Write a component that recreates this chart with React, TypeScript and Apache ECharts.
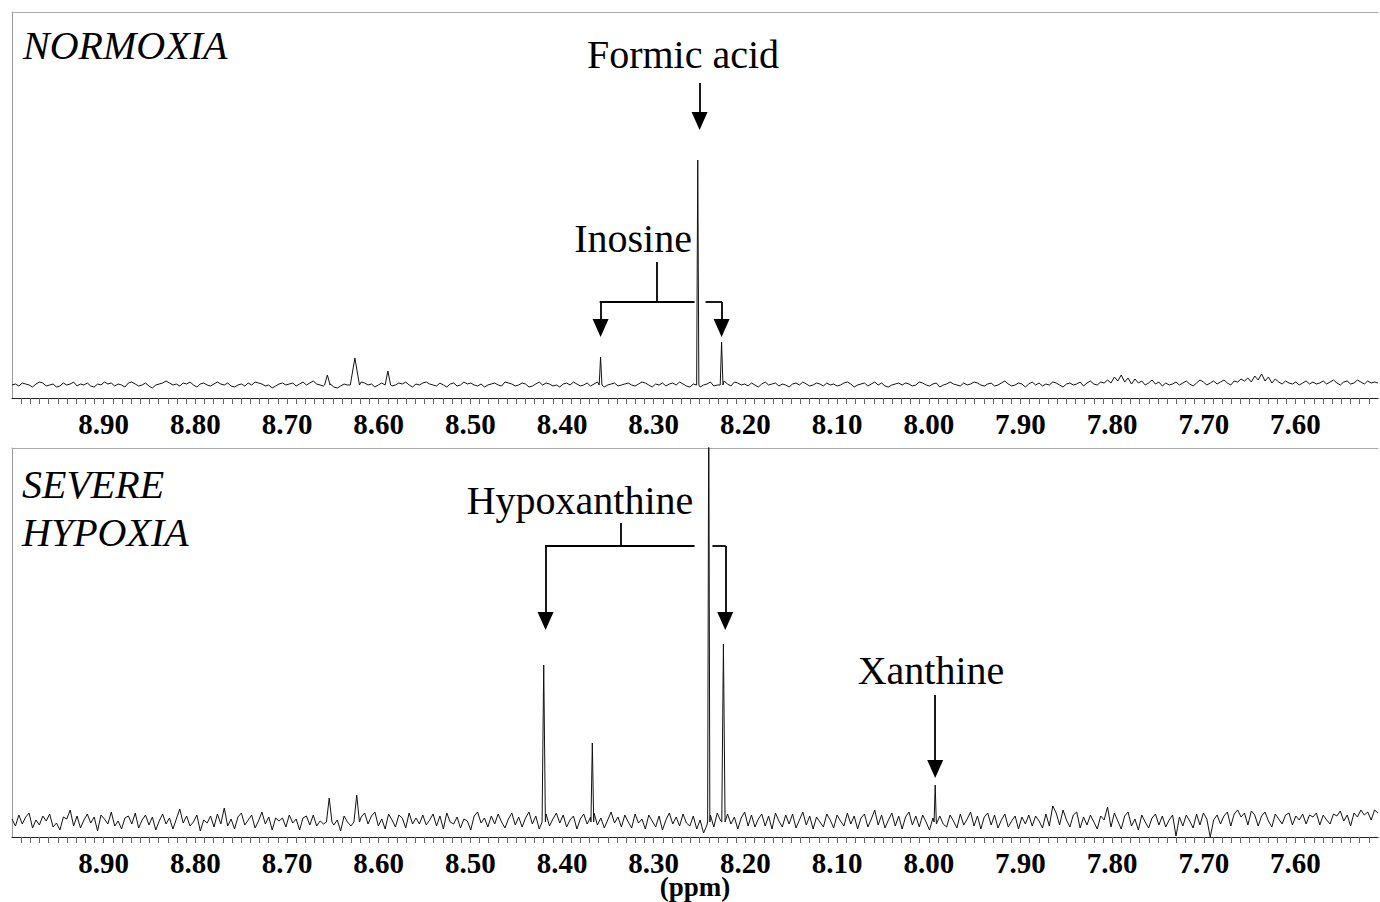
import React, { useEffect, useRef } from "react";
import * as echarts from "echarts";

const SERIF = '"Liberation Serif", "Times New Roman", serif';

// chemical-shift range shown (ppm), axis is reversed (high ppm on the left)
const PPM_LEFT = 9.0;
const PPM_RIGHT = 7.51;

const tickLabelValues = [8.9, 8.8, 8.7, 8.6, 8.5, 8.4, 8.3, 8.2, 8.1, 8.0, 7.9, 7.8, 7.7, 7.6];

// baseline noise (intensity units, evenly spaced from 9.00 to 7.51 ppm)
const normoxiaNoise = [
  0, 1, -1, 2, 1, 0, -2, 1, 3, 2, -1, 0, 1, -2, -1, 2, 0, 1, 3, -1,
  1, 0, 2, -1, -2, 1, 0, 3, 1, 2, -1, 1, 0, -2, 2, 3, 1, -1, 0, 2,
  -1, -3, 0, 1, 2, 4, 2, 0, 1, -1, 2, 1, 3, 0, -2, 1, 2, 0, -1, 1,
  3, 1, 0, 2, -1, -2, 0, 1, -1, 2, 0, 3, 2, 1, -1, 0, -3, -1, 1, 2,
  0, 1, 2, -1, 1, 3, 0, 2, 4, 1, 0, -1, 2, 1, -2, -3, -1, 1, 0, 2,
  1, -1, 3, 2, 0, 1, -2, 0, 2, 3, 1, -1, 0, 2, 1, 3, 0, -2, 1, 0,
  2, 3, 1, 0, -1, 2, 0, -2, 1, 2, -1, 0, 3, 1, 2, 0, -1, 1, -2, 0,
  1, 2, 0, -1, 3, 2, 1, -1, 0, 2, 1, -2, -1, 1, 3, 0, 2, 1, -1, 0,
  -2, 1, 2, 0, 3, 1, -1, 0, 2, -1, 1, 3, 0, -2, 0, 1, 2, -1, 0, 1,
  2, 0, -1, 1, 3, 2, 0, -2, 1, 0, 2, -1, 1, 2, 0, 3, 1, -1, -2, 1,
  2, -2, 0, 1, 3, -1, 0, 2, 4, 1, -1, 3, 2, 0, 1, -1, 2, 0, -2, 1,
  3, 0, 1, 2, -1, 1, 0, -2, 1, 2, 0, 3, 1, -1, 0, 2, 1, -1, 2, 0,
  1, -1, 0, 2, 3, 1, -2, 0, 1, 2, -1, 1, 3, 0, 2, -1, -2, 0, 1, 2,
  0, 2, 1, -1, 0, 3, 2, 0, -1, 1, 2, -2, 0, 1, 3, 1, 0, -1, 2, 0,
  1, 3, 2, 0, -1, 1, 2, -1, 0, 2, 4, 1, -1, 0, 2, 1, -2, 1, 3, 0,
  2, -1, 1, 0, 3, 2, 0, -2, 1, 2, 0, 1, 3, -1, 2, 4, 1, 0, 3, 2,
  5, 2, 8, 4, 10, 3, 7, 1, 6, 2, 4, 0, 2, 5, 1, 3, -1, 2, 0, 1,
  3, 0, 2, 4, 1, -1, 2, 5, 3, 0, 2, 4, 1, 3, 5, 2, 0, 4, 3, 6,
  4, 7, 3, 9, 5, 11, 4, 8, 2, 6, 3, 1, 4, 2, 1, 3, 0, 2, 4, 1,
  3, 1, 2, 4, 1, 3, 5, 2, 0, 3, 4, 1, 2, 5, 3, 1, 4, 2, 3, 2,
];

const hypoxiaNoise = [
  3, -4, 7, -2, 5, 9, -6, 2, -3, 6, 1, 8, -5, -1, -8, 5, 3, 12, -4, 6,
  -6, 2, 8, -1, 5, -9, 7, 3, -2, 10, -4, 1, -7, 4, 6, -2, 9, -6, 2, 7,
  -3, 5, -8, 1, 8, -2, 4, -7, 3, 13, -1, 6, -4, 0, 7, -9, 2, -1, 6, -5,
  8, -2, 14, -4, 3, -7, 5, 9, -3, 2, 7, -6, 1, 10, -2, 5, -8, 4, 1, 4,
  -5, 7, -1, 3, -8, 4, 6, -3, 7, -4, 1, -2, 5, -7, -3, 2, -9, 6, 0, -4,
  3, -6, 5, 9, -2, 6, 10, -4, 3, -7, 8, 2, -5, 7, 4, -6, 9, -2, 4, -2,
  7, -3, 2, 8, -4, 6, -7, 9, 0, -2, 5, -6, 3, 1, -8, 6, 10, -1, 4, -5,
  6, -2, 8, 0, -6, 3, 9, -3, 5, -5, 4, 10, -2, 6, -7, 1, 8, -4, 3, 9,
  -1, 7, -5, 2, 6, -7, 3, 8, -2, 5, 9, -3, 4, -6, 2, 10, -1, 5, -5, 7,
  0, -6, 8, -1, 3, -7, 7, 1, -5, 6, -8, 2, 9, -2, 5, -4, 8, -1, -4, 6,
  -7, 2, -11, -3, 7, -5, 9, 1, -6, 8, -2, 5, -7, 4, 10, -4, 7, -5, 3, 8,
  -4, 6, -7, 9, 1, -5, 7, -2, 8, -6, 2, 10, -3, 6, -7, 5, 0, -5, 8, 2,
  -6, 7, 1, -4, 9, -2, 6, -7, 4, 8, -5, 3, 12, -3, 7, -6, 2, 9, -4, 6,
  -7, 5, 10, -3, 6, -5, 7, 0, -8, 4, -2, 6, -2, -5, 7, 1, -6, 8, -3, 3,
  10, -4, 6, -7, 5, 9, -3, 7, -6, 2, 8, -5, 1, 6, -7, 5, -2, 7, -4, 6,
  1, -6, 8, -4, 16, 9, -3, 12, 2, -5, 7, 10, -6, 5, -3, 7, 0, -7, 6, 2,
  15, -5, 9, 1, -7, 6, 10, -4, 3, -8, 7, 0, -6, 4, 8, -3, 6, -5, 2, 7,
  -14, 5, -4, 7, 1, -6, 8, -3, 9, 3, -15, 2, 7, -2, 6, 10, -4, 8, 12, 5,
  9, -3, 11, 7, -4, 6, 10, 1, -5, 8, 3, -2, 7, 9, -3, 6, 2, 8, -2, 7,
  5, 9, -3, 7, 2, -2, 8, 6, 11, 1, 7, -4, 9, 5, 12, 7, 10, 2, 12, 9,
];

// resonances: [ppm, height, half-width (ppm)]
const normoxiaPeaks = [
  [8.252, 225, 0.0012], // formic acid
  [8.358, 28, 0.0015], // inosine
  [8.226, 43, 0.0015], // inosine
  [8.626, 27, 0.005],
  [8.656, 10, 0.003],
  [8.59, 14, 0.003],
];
const hypoxiaPeaks = [
  [8.42, 157, 0.0018], // hypoxanthine
  [8.367, 79, 0.0015],
  [8.24, 430, 0.0012], // formic acid (off scale)
  [8.224, 178, 0.0018], // hypoxanthine
  [7.993, 37, 0.0012], // xanthine
  [8.654, 24, 0.003],
  [8.624, 27, 0.003],
];

// y ranges of the two panels (intensity units)
const normoxiaRange = [-13, 373];
const hypoxiaRange = [-15, 374];

// annotation arrows: [ppm, from, tip] and bracket segments [ppm1, v1, ppm2, v2]
const ARROW_HALF = 9;
const normoxiaArrows = [
  [8.25, 302, 255],
  [8.358, 83, 48],
  [8.226, 83, 48],
];
const normoxiaBrackets = [
  [8.297, 123, 8.297, 83],
  [8.359, 83, 8.2555, 83],
  [8.2435, 83, 8.2255, 83],
];
const hypoxiaArrows = [
  [8.418, 276, 192],
  [8.222, 276, 192],
  [7.993, 127, 44],
];
const hypoxiaBrackets = [
  [8.336, 299, 8.336, 276],
  [8.4185, 276, 8.2555, 276],
  [8.236, 276, 8.2215, 276],
];

function buildSpectrum(noise: number[], peaks: number[][]) {
  const step = (PPM_LEFT - PPM_RIGHT) / (noise.length - 1);
  let pts = noise.map((v, i) => [PPM_LEFT - i * step, v]);
  peaks.forEach(([p, h, w]) => {
    pts = pts.filter(([x]) => Math.abs(x - p) > w);
    pts.push([p + w, 0], [p, h], [p - w, 0]);
  });
  pts.sort((a, b) => b[0] - a[0]);
  return pts;
}

function markLines(arrows: number[][], brackets: number[][]) {
  const data: any[] = [];
  brackets.forEach(([p1, v1, p2, v2]) => {
    data.push([{ coord: [p1, v1], symbol: "none" }, { coord: [p2, v2], symbol: "none" }]);
  });
  arrows.forEach(([p, from, tip]) => {
    data.push([
      { coord: [p, from], symbol: "none" },
      { coord: [p, tip + ARROW_HALF], symbol: "triangle", symbolSize: [16, 18] },
    ]);
  });
  return {
    silent: true,
    animation: false,
    symbol: ["none", "none"],
    label: { show: false },
    emphasis: { disabled: true },
    lineStyle: { color: "#000", width: 1.8, type: "solid" },
    itemStyle: { color: "#000" },
    data,
  };
}

const minorTicks: number[] = [];
for (let k = 752; k <= 899; k++) minorTicks.push(k / 100);

function bottomAxis(gridIndex: number, withName: boolean) {
  return {
    type: "value",
    gridIndex,
    min: PPM_RIGHT,
    max: PPM_LEFT,
    inverse: true,
    position: "bottom",
    axisLine: { show: true, onZero: false, lineStyle: { color: "#222", width: 1.2 } },
    axisTick: { show: true, customValues: minorTicks, length: 6, lineStyle: { color: "#666", width: 1 } },
    axisLabel: {
      show: true,
      customValues: tickLabelValues,
      formatter: (v: number) => v.toFixed(2),
      margin: 11,
      fontSize: 29,
      fontWeight: "bold",
      fontFamily: SERIF,
      color: "#000",
    },
    splitLine: { show: false },
    name: withName ? "(ppm)" : "",
    nameLocation: "middle",
    nameGap: 36,
    nameMoveOverlap: false,
    nameTextStyle: { fontSize: 27, fontWeight: "bold", fontFamily: SERIF, color: "#000" },
  };
}

function topAxis(gridIndex: number) {
  return {
    type: "value",
    gridIndex,
    min: PPM_RIGHT,
    max: PPM_LEFT,
    inverse: true,
    position: "top",
    axisLine: { show: true, onZero: false, lineStyle: { color: "#aaa", width: 1 } },
    axisTick: { show: false },
    axisLabel: { show: false },
    splitLine: { show: false },
  };
}

function yAxis(gridIndex: number, range: number[]) {
  return {
    type: "value",
    gridIndex,
    min: range[0],
    max: range[1],
    axisLine: { show: true, onZero: false, lineStyle: { color: "#999", width: 1 } },
    axisTick: { show: false },
    axisLabel: { show: false },
    splitLine: { show: false },
  };
}

function label(text: string, x: number, y: number, size: number, italic: boolean, align: string) {
  return {
    type: "text",
    x,
    y,
    silent: true,
    style: {
      text,
      fill: "#000",
      fontSize: size,
      fontFamily: SERIF,
      fontStyle: italic ? "italic" : "normal",
      align,
      textAlign: align,
      verticalAlign: "middle",
      textVerticalAlign: "middle",
    },
  };
}

export default function App() {
  const ref = useRef<HTMLDivElement>(null);
  useEffect(() => {
    if (!ref.current) return;
    const chart = echarts.init(ref.current, null, { renderer: "svg" });
    const option: any = {
      animation: false,
      backgroundColor: "#fff",
      grid: [
        { left: 12, right: 2, top: 12, height: 386, outerBoundsMode: "none", containLabel: false },
        { left: 12, right: 2, top: 448, height: 389, outerBoundsMode: "none", containLabel: false },
      ],
      xAxis: [bottomAxis(0, false), topAxis(0), bottomAxis(1, true), topAxis(1)],
      yAxis: [yAxis(0, normoxiaRange), yAxis(1, hypoxiaRange)],
      series: [
        {
          type: "line",
          xAxisIndex: 0,
          yAxisIndex: 0,
          data: buildSpectrum(normoxiaNoise, normoxiaPeaks),
          showSymbol: false,
          clip: true,
          color: "#000",
          lineStyle: { color: "#111", width: 1 },
          silent: true,
          markLine: markLines(normoxiaArrows, normoxiaBrackets),
        },
        {
          type: "line",
          xAxisIndex: 2,
          yAxisIndex: 1,
          data: buildSpectrum(hypoxiaNoise, hypoxiaPeaks),
          showSymbol: false,
          clip: true,
          color: "#000",
          lineStyle: { color: "#111", width: 1 },
          silent: true,
          markLine: markLines(hypoxiaArrows, hypoxiaBrackets),
        },
      ],
      graphic: [
        label("NORMOXIA", 23, 45, 40, true, "left"),
        label("SEVERE", 22, 484, 40, true, "left"),
        label("HYPOXIA", 22, 532, 40, true, "left"),
        label("Formic acid", 683, 54, 40, false, "center"),
        label("Inosine", 633, 238, 40, false, "center"),
        label("Hypoxanthine", 580, 500, 40, false, "center"),
        label("Xanthine", 931, 670, 40, false, "center"),
      ],
    };
    chart.setOption(option);
    return () => chart.dispose();
  }, []);
  return (
    <div
      ref={ref}
      style={{ position: "fixed", left: 0, top: 0, width: 1380, height: 902, background: "#fff" }}
    />
  );
}
